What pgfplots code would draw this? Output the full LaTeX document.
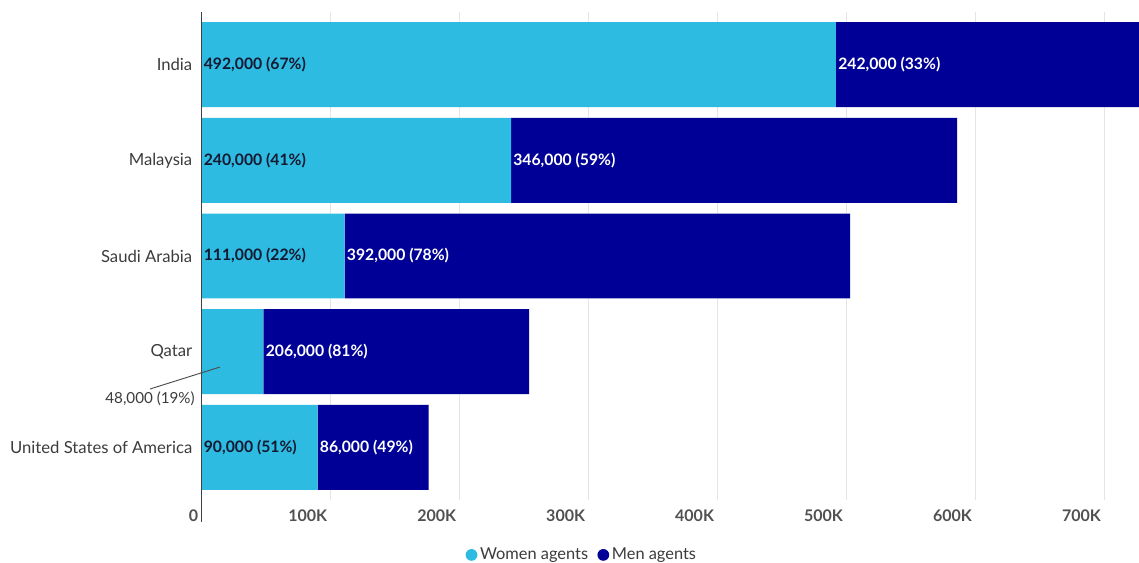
\documentclass[border=0pt]{standalone}
\usepackage{fontspec}
\setmainfont{Lato}
\usepackage{pgfplots}
\pgfplotsset{compat=1.18}
\definecolor{women}{RGB}{46,187,225}
\definecolor{men}{RGB}{0,0,150}
\definecolor{lbl}{RGB}{20,24,48}
\definecolor{tickc}{RGB}{80,80,80}
\definecolor{ylab}{RGB}{60,60,60}
\pgfplotsset{dotlegend/.style={legend image code/.code={\fill[##1] (0.12cm,0) circle (4.4pt);}}}
\tikzset{dl/.style={anchor=west, inner sep=1.5pt, font=\fontsize{11.8}{13}\selectfont\bfseries}}
\begin{document}
\begin{tikzpicture}
\path[use as bounding box] (0,0) rectangle (854.25pt,-421.5pt);
\begin{axis}[
  at={(151.2pt,-375pt)}, anchor=south west, scale only axis,
  width=703.05pt, height=366pt,
  xbar stacked, bar width=0.888,
  xmin=0, xmax=727000, ymin=-0.55, ymax=4.55,
  ytick={0,1,2,3,4},
  yticklabels={United States of America, Qatar, Saudi Arabia, Malaysia, India},
  xtick={0,100000,200000,300000,400000,500000,600000,700000},
  xticklabels={0,100K,200K,300K,400K,500K,600K,700K},
  scaled x ticks=false,
  xmajorgrids, grid style={draw=black!10, line width=0.75pt},
  axis line style={draw=none}, major tick length=0pt,
  /pgf/number format/assume math mode=true,
  xticklabel style={anchor=north east, xshift=1pt, yshift=-4pt, text=tickc, font=\fontsize{12}{13}\selectfont\bfseries},
  yticklabel style={xshift=-3.5pt, text=ylab, font=\fontsize{12.5}{14}\selectfont},
  legend style={draw=none, at={(0.406,-0.1125)}, anchor=center, legend columns=2,
    font=\fontsize{12.3}{14}\selectfont, text=ylab,
    /tikz/every even column/.append style={column sep=5pt}},
  dotlegend,
]
\addplot[fill=women, draw=none] coordinates {(90000,0) (48000,1) (111000,2) (240000,3) (492000,4)};
\addplot[fill=men, draw=none] coordinates {(86000,0) (206000,1) (392000,2) (346000,3) (242000,4)};
\legend{Women agents, Men agents}
\coordinate (w4) at (axis cs:0,4);
\coordinate (m4) at (axis cs:492000,4);
\coordinate (w3) at (axis cs:0,3);
\coordinate (m3) at (axis cs:240000,3);
\coordinate (w2) at (axis cs:0,2);
\coordinate (m2) at (axis cs:111000,2);
\coordinate (m1) at (axis cs:48000,1);
\coordinate (w0) at (axis cs:0,0);
\coordinate (m0) at (axis cs:90000,0);
\end{axis}
\node[dl, text=lbl] at (w4) {492,000 (67\%)};
\node[dl, text=white] at (m4) {242,000 (33\%)};
\node[dl, text=lbl] at (w3) {240,000 (41\%)};
\node[dl, text=white] at (m3) {346,000 (59\%)};
\node[dl, text=lbl] at (w2) {111,000 (22\%)};
\node[dl, text=white] at (m2) {392,000 (78\%)};
\node[dl, text=white] at (m1) {206,000 (81\%)};
\node[dl, text=lbl] at (w0) {90,000 (51\%)};
\node[dl, text=white] at (m0) {86,000 (49\%)};
\draw[line width=1.1pt, color=black!75] (151.2pt,-9pt) -- (151.2pt,-391.5pt);
\draw[line width=0.7pt, color=black!70] (112.5pt,-291.75pt) -- (165pt,-275.25pt);
\node[anchor=east, inner sep=0pt, text=ylab, font=\fontsize{11.4}{13}\selectfont] at (146.25pt,-299.25pt) {48,000 (19\%)};
\end{tikzpicture}
\end{document}
